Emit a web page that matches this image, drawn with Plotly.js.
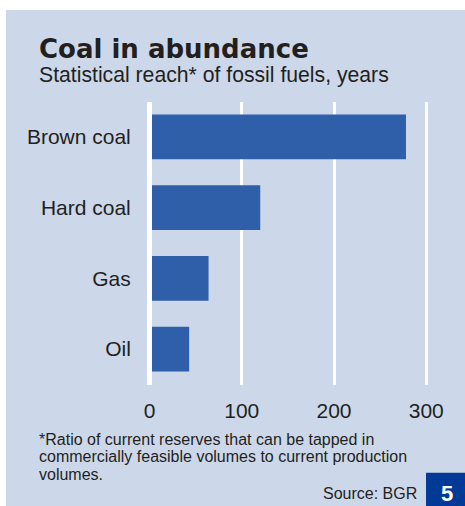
<!DOCTYPE html>
<html>
<head>
<meta charset="utf-8">
<script src="https://cdn.plot.ly/plotly-3.0.1.min.js"></script>
<style>
  html, body { margin: 0; padding: 0; background: #ffffff; }
  #chart { width: 465px; height: 506px; }
</style>
</head>
<body>
<div id="chart"></div>
<script>
// Statistical reach of fossil fuels, in years
const fuels = ["Brown coal", "Hard coal", "Gas", "Oil"];
const reachYears = [278, 120, 64, 43];
const xTicks = [0, 100, 200, 300];

const W = 465, H = 506;
const px = x => x / W;          // pixel column -> paper x
const py = y => 1 - y / H;      // pixel row -> paper y

const ink = "#231f20";
const panel = "#ccd8ea";
const barBlue = "#2f5fa9";
const boxBlue = "#003a96";

const trace = {
  type: "bar",
  orientation: "h",
  y: fuels,
  x: reachYears,
  width: 0.63,
  marker: { color: barBlue, line: { width: 0 } },
  hoverinfo: "skip"
};

const text = (s, x, y, size, opts = {}) => Object.assign({
  text: s, xref: "paper", yref: "paper", x: px(x), y: py(y),
  xanchor: "left", yanchor: "middle", showarrow: false,
  font: { family: "Liberation Sans, Arial, sans-serif", size: size, color: ink }
}, opts);

const layout = {
  width: W, height: H,
  margin: { l: 0, r: 0, t: 0, b: 0, pad: 0 },
  paper_bgcolor: "#ffffff",
  plot_bgcolor: "rgba(0,0,0,0)",
  showlegend: false,
  bargap: 0.37,
  xaxis: {
    domain: [px(145), px(445)],
    range: [-4.9, 320.3],
    tickvals: xTicks,
    ticktext: xTicks.map(String),
    showgrid: true, gridcolor: "#ffffff", gridwidth: 3,
    zeroline: true, zerolinecolor: "#ffffff", zerolinewidth: 5,
    zerolinelayer: "above traces",
    showline: false,
    ticks: "outside", ticklen: 7, tickcolor: "rgba(0,0,0,0)",
    tickfont: { family: "Liberation Sans, Arial, sans-serif", size: 21, color: ink },
    automargin: false, fixedrange: true
  },
  yaxis: {
    domain: [py(384.5), py(101.5)],
    type: "category",
    categoryorder: "array", categoryarray: fuels,
    range: [3.5, -0.5],
    showgrid: false, zeroline: false, showline: false,
    ticks: "outside", ticklen: 9, tickcolor: "rgba(0,0,0,0)",
    tickfont: { family: "Liberation Sans, Arial, sans-serif", size: 21, color: ink },
    automargin: false, fixedrange: true
  },
  shapes: [
    { type: "rect", xref: "paper", yref: "paper", layer: "below",
      x0: px(6), x1: 1, y0: 0, y1: py(10),
      fillcolor: panel, line: { width: 0 } },
    { type: "rect", xref: "paper", yref: "paper", layer: "above",
      x0: px(426), x1: 1, y0: 0, y1: py(472.7),
      fillcolor: boxBlue, line: { width: 0 } }
  ],
  annotations: [
    text("<b>Coal in abundance</b>", 37, 49, 26,
      { font: { family: "DejaVu Sans, sans-serif", size: 26, color: ink } }),
    text("Statistical reach* of fossil fuels, years", 37, 74.5, 21.2),
    text("*Ratio of current reserves that can be tapped in", 37, 439, 16),
    text("commercially feasible volumes to current production", 37, 456.5, 16),
    text("volumes.", 37, 474, 16),
    text("Source: BGR", 419, 493, 16, { xanchor: "right" }),
    text("<b>5</b>", 446.5, 493, 22,
      { xanchor: "center", font: { family: "Liberation Sans, Arial, sans-serif", size: 22, color: "#ffffff" } })
  ]
};

Plotly.newPlot("chart", [trace], layout, { staticPlot: true, displayModeBar: false });
</script>
</body>
</html>
